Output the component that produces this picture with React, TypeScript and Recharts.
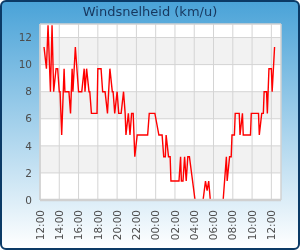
import React from "react";
import {
  LineChart,
  Line,
  XAxis,
  YAxis,
  CartesianGrid,
  ReferenceArea,
  ReferenceLine,
} from "recharts";

// metingen (tijdstip, km/u)
const TIMES = [
  "12:25", "12:40", "12:50", "13:05", "13:15", "13:25", "13:40", "13:50", "14:00", "14:05",
  "14:15", "14:30", "14:35", "15:00", "15:10", "15:20", "15:25", "15:40", "16:00", "16:20",
  "16:35", "16:40", "16:50", "17:05", "17:10", "17:20", "17:55", "18:00", "18:20", "18:30",
  "18:45", "19:00", "19:15", "19:30", "19:35", "19:45", "20:00", "20:10", "20:25", "20:40",
  "20:50", "20:55", "21:10", "21:20", "21:30", "21:40", "21:50", "22:05", "23:10", "23:20",
  "23:55", "00:20", "00:40", "00:50", "01:00", "01:05", "01:20", "01:30", "01:35", "02:25",
  "02:35", "02:40", "02:50", "03:00", "03:10", "03:20", "03:30", "04:05", "04:55", "05:10",
  "05:20", "05:30", "05:40", "07:00", "07:20", "07:25", "07:40", "07:50", "07:55", "08:10",
  "08:15", "08:40", "08:45", "09:00", "09:05", "09:50", "09:55", "10:40", "10:45", "11:00",
  "11:10", "11:15", "11:30", "11:35", "11:45", "12:00", "12:05", "12:20",
];

const SPEEDS = [
  11.3, 9.7, 12.9, 8.0, 12.9, 8.0, 9.7, 9.7, 8.0, 8.0,
  4.8, 9.7, 8.0, 8.0, 6.4, 9.7, 8.0, 11.3, 8.0, 8.0,
  9.7, 8.0, 9.7, 8.0, 8.0, 6.4, 6.4, 9.7, 9.7, 8.0,
  8.0, 6.4, 9.7, 8.0, 8.0, 6.4, 8.0, 6.4, 6.4, 8.0,
  6.4, 4.8, 6.4, 4.8, 6.4, 6.4, 3.2, 4.8, 4.8, 6.4,
  6.4, 4.8, 4.8, 3.2, 3.2, 4.8, 3.2, 3.2, 1.4, 1.4,
  3.2, 1.4, 1.4, 3.2, 1.4, 3.2, 3.2, 0, 0, 1.4,
  0.7, 1.4, 0, 0, 3.2, 1.4, 3.2, 3.2, 4.8, 4.8,
  6.4, 6.4, 4.8, 6.4, 4.8, 4.8, 6.4, 6.4, 4.8, 6.4,
  6.4, 8.0, 8.0, 6.4, 9.7, 9.7, 8.0, 11.3,
];

const TICK_LABELS = [
  "12:00", "14:00", "16:00", "18:00", "20:00", "22:00", "00:00",
  "02:00", "04:00", "06:00", "08:00", "10:00", "12:00",
];

const Y_TICKS = [0, 2, 4, 6, 8, 10, 12];

// uren sinds de eerste tick (12:00), over middernacht heen
const buildData = () => {
  let dayOffset = 0;
  let prev = -1;
  return TIMES.map((t, i) => {
    const [h, m] = t.split(":").map(Number);
    let mins = h * 60 + m - 720;
    if (mins < 0) mins += 1440;
    mins += dayOffset;
    if (mins < prev) {
      dayOffset += 1440;
      mins += 1440;
    }
    prev = mins;
    return { hour: mins / 60, speed: SPEEDS[i] };
  });
};

const data = buildData();
const xTicks = TICK_LABELS.map((_, i) => i * 2);

const FONT = "'DejaVu Sans', Verdana, sans-serif";

const RotatedTick = ({ x, y, payload }: any) => {
  const label = TICK_LABELS[Math.round(payload.value / 2)];
  return (
    <g transform={`translate(${x},${y + 2})`}>
      <text
        transform="rotate(-90)"
        textAnchor="end"
        dy="0.35em"
        fill="#4d4d4d"
        fontSize={10.5}
        fontFamily={FONT}
      >
        {label}
      </text>
    </g>
  );
};

export default function App() {
  return (
    <div
      style={{
        position: "fixed",
        left: 0,
        top: 0,
        width: 300,
        height: 250,
        boxSizing: "border-box",
        border: "2px solid #0b3a66",
        borderRadius: 6,
        background: "linear-gradient(to bottom, #4aa3d8 0%, #ffffff 100%)",
        overflow: "hidden",
      }}
    >
      <div
        style={{
          position: "absolute",
          left: 0,
          right: 0,
          top: 2,
          textAlign: "center",
          fontFamily: FONT,
          fontSize: 13,
          color: "#17375e",
        }}
      >
        Windsnelheid (km/u)
      </div>
      <div style={{ position: "absolute", left: -2, top: -2 }}>
        <LineChart
          width={300}
          height={250}
          data={data}
          margin={{ top: 24, right: 19, left: 0, bottom: 0 }}
        >
          <CartesianGrid
            stroke="#d4d4d4"
            horizontalFill={["#ffffff", "#f2f2f2"]}
            fillOpacity={1}
          />
          <ReferenceArea
            x1={0}
            x2={25}
            y1={0}
            y2={13}
            fill="none"
            stroke="#d0d0d0"
            ifOverflow="visible"
          />
          <XAxis
            dataKey="hour"
            type="number"
            domain={[0, 25]}
            ticks={xTicks}
            interval={0}
            height={50}
            tickLine={false}
            axisLine={{ stroke: "#d0d0d0" }}
            tick={<RotatedTick />}
          />
          <YAxis
            type="number"
            domain={[0, 13]}
            ticks={Y_TICKS}
            interval={0}
            width={40}
            tickLine={false}
            axisLine={{ stroke: "#d0d0d0" }}
            tick={{ fill: "#4d4d4d", fontSize: 10.5, fontFamily: FONT }}
          />
          <Line
            type="linear"
            dataKey="speed"
            stroke="#ff0000"
            strokeWidth={1.4}
            dot={false}
            isAnimationActive={false}
          />
          <ReferenceLine y={0} stroke="#d0d0d0" strokeWidth={2.5} zIndex={1000} />
        </LineChart>
      </div>
    </div>
  );
}
